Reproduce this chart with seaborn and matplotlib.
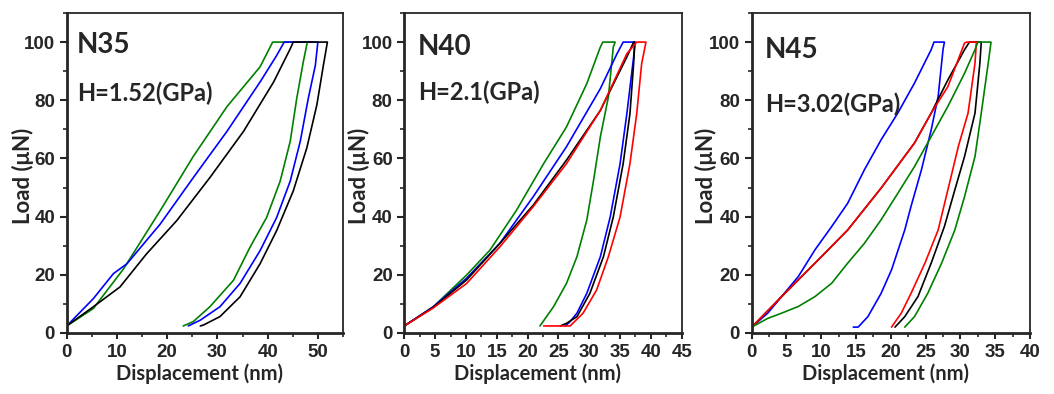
import pandas as pd
import seaborn as sns
import matplotlib.pyplot as plt
from matplotlib.ticker import MultipleLocator

# N35 curves (load -> hold -> unload)
n35_green_x = [0, 5.3, 11.3, 18.6, 25.2, 31.9, 38.5, 41.0, 47.9, 47.1, 45.8, 44.5, 42.5, 39.8, 36.5, 33.2, 28.5, 25.2, 23.2]
n35_green_y = [2.4, 8.4, 22, 42, 60.7, 77.8, 91.5, 100, 100, 93.2, 80.7, 65.9, 52.2, 39.7, 29.5, 18.1, 9, 3.9, 2.4]
n35_blue_x = [0, 5.3, 9.3, 12, 18.6, 25.2, 31.9, 38.5, 41.8, 43.3, 50.0, 49.5, 48.1, 46.5, 44.5, 41.8, 38.5, 34.5, 30.5, 26.6, 24.2]
n35_blue_y = [2.4, 11.8, 20.4, 23.8, 37.4, 53.4, 69.3, 86.3, 95.4, 100, 100, 92, 80.7, 65.9, 52.2, 39.7, 28.3, 17, 9, 4.4, 2.4]
n35_black_x = [0, 5.3, 10.6, 15.9, 21.9, 28.5, 35.2, 41.2, 44.5, 45.1, 51.9, 51.1, 49.8, 47.8, 45.1, 41.8, 38.5, 34.5, 30.5, 27.2, 26.6]
n35_black_y = [2.4, 9, 15.8, 27.2, 38.6, 53.4, 69.3, 86.3, 97.7, 100, 100, 92, 78.4, 63.6, 48.8, 35.2, 23.8, 12.4, 5.6, 2.7, 2.4]

# N40 curves
n40_green_x = [0, 4.7, 10.1, 13.9, 18.2, 22.6, 26.3, 29.6, 31.8, 32.2, 34.2, 33.9, 33.1, 31.8, 30.7, 29.6, 28, 26.3, 24.2, 22]
n40_green_y = [2.4, 9, 19.9, 28.5, 42.2, 58.2, 70.8, 85.7, 98.3, 100, 100, 98.3, 81.1, 67.4, 52.5, 38.8, 26.2, 17, 9, 2.4]
n40_blue_x = [0, 4.7, 10.1, 15.5, 20.9, 26.3, 31.8, 34.5, 35.5, 37.4, 37.2, 36.1, 35, 33.4, 31.8, 29.6, 28, 26.9, 26.1]
n40_blue_y = [2.4, 9, 18.8, 30.8, 46.8, 64, 84, 96, 100, 100, 94.9, 75.4, 58.2, 39.9, 26.2, 13.6, 6.8, 3.9, 2.4]
n40_black_x = [0, 4.7, 10.1, 15.5, 20.9, 26.3, 31.8, 36.1, 37.2, 37.4, 37.2, 36.6, 35.5, 33.9, 32.3, 30.1, 28, 26.3, 25.3]
n40_black_y = [2.4, 8.8, 18.2, 30.8, 43.9, 59.4, 76.5, 94.9, 100, 100, 92.6, 75.4, 58.2, 39.9, 26.2, 13.6, 5.6, 3.3, 2.4]
n40_red_x = [0, 4.7, 10.1, 15.5, 20.9, 26.3, 31.8, 36.1, 37.7, 39.2, 38.5, 37.7, 36.6, 35, 33.1, 31.2, 29, 26.9, 22.6]
n40_red_y = [2.4, 8.6, 17, 29.6, 43.4, 58.2, 76.5, 96, 100, 100, 92.6, 75.4, 58.2, 39.9, 26.2, 14.8, 6.8, 2.4, 2.4]

# N45 curves
n45_blue_x = [0, 2.3, 4.3, 6.7, 9.1, 11.5, 13.8, 16.2, 18.6, 21, 23.4, 25.8, 26.2, 27.7, 27.5, 26.8, 25.8, 24.4,
              22.9, 22, 20.1, 18.6, 16.7, 15.3, 14.6]
n45_blue_y = [2, 6.8, 12.5, 19.4, 28.6, 36.6, 44.6, 56.1, 66.4, 75.6, 85.9, 97.4, 100, 100, 97.4, 81.3, 69.8, 56.1,
              43.5, 35.4, 21.7, 13.6, 5.6, 2, 2]
n45_black_x = [0, 4.3, 9.1, 13.8, 18.6, 23.4, 25.8, 28.2, 30.6, 31.3, 33.0, 32.8, 32.1, 30.6, 29.2, 27.7, 25.8, 23.9, 22, 20.6]
n45_black_y = [2, 12.5, 24, 35.4, 49.8, 65.3, 75.6, 87, 97.4, 100, 100, 92.8, 75.6, 60.7, 49.2, 36.6, 24, 12.5, 5.6, 2]
n45_red_x = [0, 4.3, 9.1, 13.8, 18.6, 23.4, 25.8, 28.2, 30.6, 30.9, 32.3, 32.1, 31.1, 29.7, 28.2, 26.8, 24.9, 22.9, 21.5, 20.1]
n45_red_y = [2, 12.5, 24, 35.4, 49.8, 65.3, 75.6, 84.7, 99.7, 100, 100, 92.8, 75.6, 64.1, 49.2, 35.4, 24, 13.6, 6.8, 2]
n45_green_x = [0, 2.3, 4.3, 6.7, 9.1, 11.5, 13.8, 16.2, 18.6, 21, 23.4, 25.8, 28.2, 30.6, 32.1, 32.5, 34.4,
               34, 33, 32.1, 30.6, 29.2, 27.3, 25.3, 23.4, 22]
n45_green_y = [2, 5, 6.8, 9.1, 12.5, 17.1, 24, 30.8, 38.9, 48, 57.2, 67.5, 77.9, 89.3, 97.4, 100, 100,
               92.8, 75.6, 60.7, 46.9, 35.4, 24, 13.6, 5.6, 2]

colors = {"green": "#008000", "blue": "#0000ff", "black": "#000000", "red": "#ff0000"}

panels = [
    ("N35", "H=1.52(GPa)", 55, 10, {"green": (n35_green_x, n35_green_y),
                                    "blue": (n35_blue_x, n35_blue_y),
                                    "black": (n35_black_x, n35_black_y)}),
    ("N40", "H=2.1(GPa)", 45, 5, {"green": (n40_green_x, n40_green_y),
                                  "blue": (n40_blue_x, n40_blue_y),
                                  "black": (n40_black_x, n40_black_y),
                                  "red": (n40_red_x, n40_red_y)}),
    ("N45", "H=3.02(GPa)", 40, 5, {"blue": (n45_blue_x, n45_blue_y),
                                   "black": (n45_black_x, n45_black_y),
                                   "red": (n45_red_x, n45_red_y),
                                   "green": (n45_green_x, n45_green_y)}),
]

sns.set_style("ticks")
# tick labels: bold Arial-like
plt.rcParams["font.family"] = ["Liberation Sans", "DejaVu Sans"]
plt.rcParams["font.weight"] = "bold"
plt.rcParams["xtick.labelsize"] = 13.5
plt.rcParams["ytick.labelsize"] = 13.5
plt.rcParams["xtick.major.pad"] = 4.2
plt.rcParams["ytick.major.pad"] = 3.4
label_font = ["Lato", "DejaVu Sans"]

fig = plt.figure(figsize=(10.54, 3.94), dpi=100)
rects = [[0.0633, 0.155, 0.2621, 0.812],
         [0.3836, 0.155, 0.2632, 0.812],
         [0.7132, 0.155, 0.2640, 0.812]]
label_x = [-0.16, -0.165, -0.163]
text_pos = [(0.037, 0.875, 0.725), (0.05, 0.868, 0.728), (0.048, 0.86, 0.69)]

for i, (name, hard, xmax, xstep, curves) in enumerate(panels):
    ax = fig.add_axes(rects[i])
    rows = []
    for c, (xs, ys) in curves.items():
        for x, y in zip(xs, ys):
            rows.append({"x": x, "y": y, "curve": c})
    df = pd.DataFrame(rows)
    sns.lineplot(data=df, x="x", y="y", hue="curve", palette=colors, sort=False,
                 estimator=None, legend=False, linewidth=1.2, ax=ax)
    ax.set_xlim(0, xmax)
    ax.set_ylim(0, 110)
    ax.xaxis.set_major_locator(MultipleLocator(xstep))
    ax.xaxis.set_minor_locator(MultipleLocator(xstep / 2))
    ax.yaxis.set_major_locator(MultipleLocator(20))
    ax.yaxis.set_minor_locator(MultipleLocator(10))
    ax.tick_params(axis="y", which="major", direction="out", length=5, width=1.5)
    ax.tick_params(axis="x", which="major", direction="out", length=4, width=1.5)
    ax.tick_params(which="minor", direction="out", length=3, width=1.2)
    for s in ["left", "bottom"]:
        ax.spines[s].set_linewidth(2)
    for s in ["top", "right"]:
        ax.spines[s].set_linewidth(1.3)
    ax.set_xlabel("Displacement (nm)", family=label_font, fontweight="bold", fontsize=14.5)
    ax.set_ylabel("Load (\u03bcN)", family=label_font, fontweight="bold", fontsize=16)
    ax.xaxis.set_label_coords(0.48, -0.095)
    ax.yaxis.label.set_va("center")
    ax.yaxis.set_label_coords(label_x[i], 0.49)
    tx, ty1, ty2 = text_pos[i]
    ax.text(tx, ty1, name, transform=ax.transAxes, family=label_font,
            fontweight="bold", fontsize=20, va="baseline")
    ax.text(tx, ty2, hard, transform=ax.transAxes, family=label_font,
            fontweight="bold", fontsize=17, va="baseline")

plt.savefig("out.png", dpi=100)
